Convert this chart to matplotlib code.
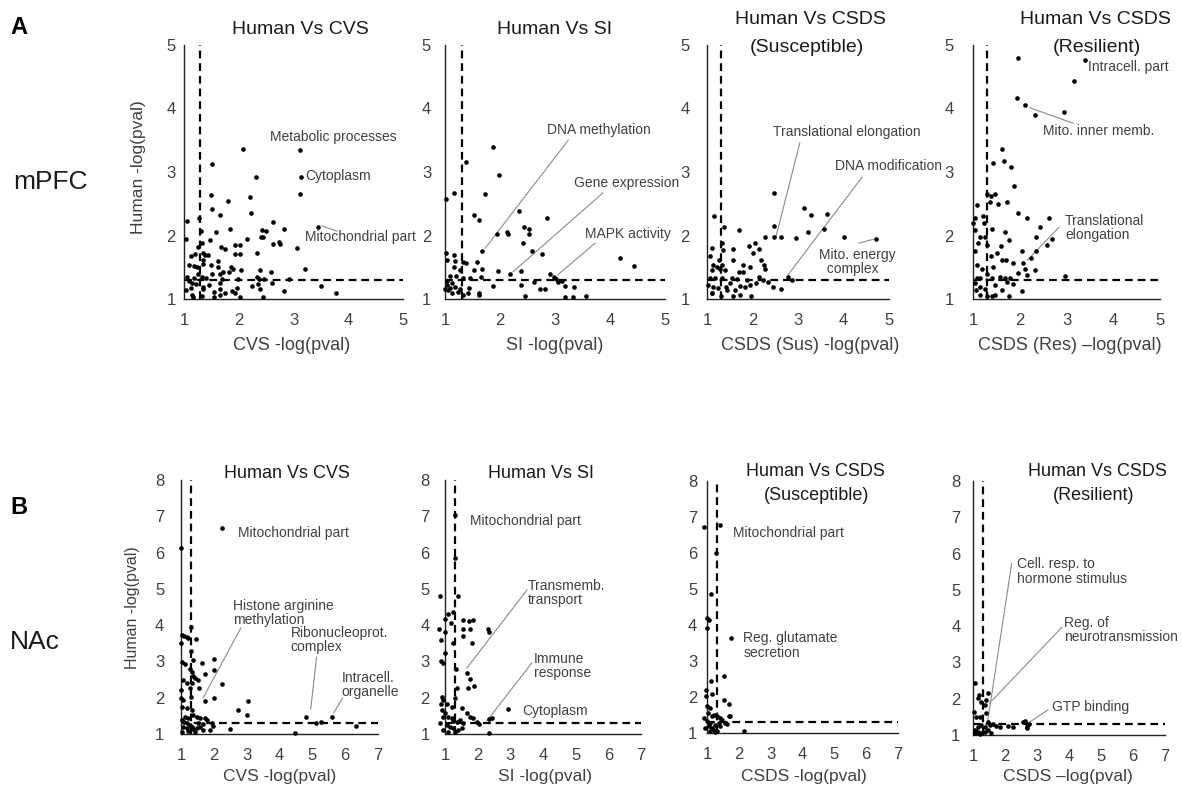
import matplotlib
matplotlib.use('Agg')
import matplotlib.pyplot as plt

plt.rcParams['font.family'] = ['Liberation Sans', 'DejaVu Sans']

# ---------------- data ----------------
a1_points = [(2.07,3.37),(3.11,3.34),(1.51,3.12),(2.32,2.92),(3.13,2.92),(3.11,2.65),(1.49,2.63),(2.20,2.60),
             (1.80,2.54),(1.52,2.42),(2.22,2.35),(1.65,2.32),(1.28,2.28),(1.05,2.23),(2.63,2.22),(3.44,2.13),
             (1.84,2.11),(2.83,2.10),(2.43,2.09),(2.49,2.07),(1.31,2.07),(1.58,2.05),(2.40,1.98),(2.44,1.97),
             (2.15,1.94),(1.48,1.93),(1.04,1.94),(2.62,1.87),(2.73,1.89),(2.76,1.87),(1.93,1.85),(2.02,1.85),
             (3.06,1.81),(1.68,1.82),(1.74,1.78),(1.34,1.73),(1.93,1.71),(2.02,1.71),(2.33,1.72),(1.13,1.68),
             (1.20,1.71),(1.25,1.82),(1.62,1.60),(1.38,1.70),(1.43,1.70),(1.09,1.54),(1.18,1.52),(1.24,1.50),
             (1.34,1.55),(1.49,1.53),(1.63,1.50),(1.86,1.51),(1.90,1.47),(3.21,1.47),(1.83,1.43),(1.72,1.42),
             (2.05,1.46),(2.38,1.45),(2.59,1.42),(1.51,1.40),(1.26,1.40),(1.65,1.40),(1.06,1.34),(1.10,1.29),
             (1.18,1.33),(1.32,1.35),(1.40,1.33),(1.69,1.31),(1.99,1.31),(2.33,1.35),(2.37,1.31),(2.46,1.31),
             (2.92,1.31),(1.14,1.25),(1.22,1.23),(1.35,1.19),(1.46,1.22),(1.65,1.25),(2.36,1.24),(2.60,1.25),
             (3.50,1.21),(1.12,1.17),(1.04,1.14),(1.35,1.16),(1.54,1.11),(1.66,1.15),(1.75,1.09),(1.87,1.12),
             (1.96,1.18),(2.25,1.20),(2.38,1.15),(2.82,1.13),(3.77,1.09),(1.14,1.06),(1.16,1.03),(1.32,1.04),
             (1.54,1.03),(2.02,1.03),(2.45,1.03),(1.65,1.06),(1.93,1.09),(1.34,1.61),(1.32,1.88)]

a2_points = [(1.88,3.40),(1.99,2.95),(1.38,3.15),(1.16,2.67),(1.01,2.57),(1.72,2.66),(2.34,2.39),(1.52,2.32),
             (1.62,2.24),(2.86,2.27),(2.44,2.14),(2.52,2.10),(2.53,2.03),(1.94,2.03),(2.12,2.06),(2.15,2.02),
             (2.41,1.88),(2.58,1.76),(2.77,1.71),(1.67,1.75),(4.19,1.65),(4.44,1.52),(1.01,1.73),(1.03,1.62),
             (1.16,1.70),(1.19,1.60),(1.32,1.59),(1.39,1.57),(1.59,1.59),(1.16,1.51),(1.27,1.45),(1.53,1.46),
             (1.68,1.47),(1.97,1.44),(2.19,1.40),(2.38,1.44),(2.91,1.40),(2.99,1.35),(3.02,1.31),(3.06,1.26),
             (1.20,1.36),(1.32,1.33),(1.45,1.33),(1.65,1.34),(1.09,1.36),(1.03,1.29),(1.12,1.25),(1.18,1.19),
             (1.06,1.14),(1.12,1.09),(1.24,1.11),(1.33,1.06),(1.42,1.09),(1.44,1.18),(1.62,1.10),(1.62,1.06),
             (1.88,1.21),(2.39,1.22),(2.45,1.04),(2.62,1.26),(2.72,1.16),(2.81,1.16),(3.19,1.21),(3.35,1.19),
             (3.18,1.03),(3.33,1.03),(3.56,1.05),(3.12,1.29),(1.03,1.22),(1.09,1.17),(1.00,1.15),(1.27,1.15)]

a3_points = [(2.47,2.67),(2.47,2.15),(3.14,2.44),(3.28,2.32),(3.63,2.34),(3.21,2.05),(3.57,2.11),(2.96,1.96),
             (4.00,1.97),(4.71,1.94),(1.16,2.30),(1.37,2.13),(1.71,2.08),(2.47,1.97),(2.63,1.97),(2.27,1.97),
             (2.05,1.88),(2.14,1.79),(1.93,1.83),(2.00,1.73),(2.19,1.61),(1.80,1.54),(1.94,1.50),(2.26,1.54),
             (2.28,1.48),(1.71,1.43),(1.12,1.80),(1.07,1.67),(1.32,1.88),(1.36,1.77),(1.58,1.78),(1.27,1.61),
             (1.32,1.54),(1.14,1.54),(1.10,1.46),(1.29,1.48),(1.58,1.62),(1.80,1.43),(1.54,1.33),(2.14,1.35),
             (2.24,1.30),(2.77,1.35),(2.87,1.30),(1.07,1.33),(1.18,1.33),(1.32,1.33),(1.65,1.31),(1.87,1.30),
             (1.03,1.22),(1.14,1.19),(1.25,1.17),(1.42,1.19),(1.51,1.25),(1.73,1.20),(1.84,1.19),(1.95,1.22),
             (2.44,1.19),(2.63,1.15),(2.35,1.27),(1.10,1.09),(1.30,1.05),(1.58,1.04),(1.73,1.06),(1.96,1.04),
             (1.43,1.14),(1.62,1.14),(2.08,1.25),(1.12,1.09),(1.21,1.51),(1.40,1.46)]

a4_points = [(1.97,4.79),(3.40,4.76),(3.16,4.43),(1.95,4.16),(2.11,4.06),(2.33,3.89),(2.95,3.94),(1.63,3.36),
             (1.43,3.14),(1.67,3.17),(1.81,3.08),(1.88,2.78),(1.29,2.66),(1.38,2.62),(1.46,2.65),(1.36,2.52),
             (1.54,2.50),(1.72,2.52),(1.08,2.48),(1.97,2.36),(2.16,2.27),(2.63,2.27),(2.43,2.14),(2.35,1.98),
             (2.68,1.94),(2.58,1.85),(2.35,1.75),(2.25,1.64),(2.08,1.56),(2.11,1.47),(2.33,1.46),(2.04,1.76),
             (1.04,2.27),(1.22,2.31),(1.24,2.19),(1.04,2.09),(1.15,1.98),(1.26,1.97),(1.40,2.10),(1.69,2.06),
             (1.78,1.93),(1.11,1.88),(1.29,1.85),(1.60,1.83),(1.51,1.73),(1.04,1.75),(1.38,1.67),(1.61,1.61),
             (1.71,1.61),(1.86,1.56),(1.08,1.54),(1.19,1.48),(1.43,1.51),(1.29,1.40),(1.58,1.35),(1.68,1.33),
             (1.79,1.33),(1.08,1.33),(1.15,1.33),(1.40,1.33),(2.97,1.36),(1.97,1.41),(2.15,1.38),(1.04,1.25),
             (1.14,1.19),(1.47,1.22),(1.72,1.27),(1.86,1.24),(2.04,1.13),(1.06,1.14),(1.26,1.15),(1.16,1.06),
             (1.31,1.05),(1.40,1.05),(1.47,1.06),(1.76,1.05),(1.61,1.14),(1.01,2.19)]

b1_points = [(2.25,6.69),(1.00,6.13),(1.29,3.96),(1.46,3.62),(1.02,3.73),(1.09,3.71),(1.17,3.68),(1.38,3.04),
             (1.63,2.95),(2.02,3.07),(2.02,2.76),(1.73,2.65),(2.25,2.37),(1.02,2.98),(1.12,2.92),(1.27,2.79),
             (1.32,2.72),(1.38,2.60),(1.43,2.55),(1.07,2.49),(1.17,2.40),(1.32,2.40),(1.53,2.49),(1.55,2.26),
             (1.73,1.92),(2.02,1.98),(3.05,1.92),(2.75,1.66),(3.00,1.51),(1.00,1.98),(1.07,1.94),(1.29,2.01),
             (1.02,1.75),(1.17,1.71),(1.32,1.66),(1.38,1.52),(1.48,1.48),(1.58,1.45),(1.73,1.43),(1.78,1.39),
             (1.93,1.31),(1.98,1.22),(1.88,1.11),(2.49,1.13),(4.80,1.48),(5.10,1.31),(5.25,1.34),(5.59,1.46),
             (6.33,1.22),(4.47,1.04),(1.02,1.39),(1.09,1.34),(1.17,1.29),(1.27,1.25),(1.32,1.20),(1.07,1.20),
             (1.17,1.16),(1.38,1.13),(1.48,1.16),(1.58,1.20),(1.68,1.28),(1.02,1.06),(1.22,1.09),(1.43,1.06),
             (1.68,1.11),(1.12,1.48),(1.22,1.43),(1.53,1.29),(1.00,2.21),(1.27,2.26),(1.29,3.29),(1.00,3.50),
             (1.22,3.64)]

b2_points = [(1.31,7.03),(1.31,5.84),(0.85,4.81),(1.41,4.80),(1.23,4.37),(1.10,4.30),(1.00,4.17),(1.17,4.05),
             (0.83,3.89),(1.00,3.82),(0.87,3.59),(1.23,3.52),(1.00,3.24),(0.87,3.02),(0.93,2.97),(1.34,2.78),
             (1.54,4.14),(1.74,4.12),(1.87,4.14),(1.56,3.89),(1.77,3.89),(1.54,3.70),(1.82,3.52),(2.33,3.88),
             (2.35,3.82),(1.66,2.69),(1.77,2.51),(1.69,2.28),(1.89,2.32),(1.36,2.26),(1.31,1.98),(0.90,2.03),
             (0.95,1.94),(0.87,1.84),(1.51,1.71),(1.66,1.57),(1.77,1.48),(1.87,1.45),(1.97,1.34),(2.05,1.28),
             (2.36,1.40),(2.43,1.45),(2.94,1.68),(2.36,1.02),(0.90,1.66),(1.00,1.57),(1.10,1.48),(1.20,1.43),
             (1.26,1.37),(1.36,1.34),(1.46,1.39),(1.56,1.31),(1.05,1.25),(1.15,1.20),(1.26,1.16),(0.95,1.11),
             (1.10,1.06),(1.31,1.06),(1.41,1.11),(1.51,1.16),(0.93,1.48),(0.85,1.29),(1.20,1.75),(1.05,1.84)]

b3_points = [(0.92,6.73),(1.42,6.79),(1.29,6.00),(1.13,4.87),(1.00,4.20),(1.05,4.15),(1.00,3.92),(1.75,3.64),
             (1.52,2.58),(1.13,2.44),(0.98,2.02),(1.16,2.07),(1.52,1.93),(1.68,1.81),(1.00,1.74),(1.10,1.70),
             (1.21,1.51),(1.31,1.46),(1.40,1.42),(1.73,1.48),(1.68,1.46),(1.42,1.19),(2.15,1.05),(0.92,1.42),
             (1.00,1.32),(1.10,1.28),(1.05,1.19),(1.16,1.14),(1.21,1.09),(1.31,1.06),(0.95,1.14),(1.26,1.23),
             (1.37,1.28),(1.57,1.28),(1.63,1.26),(1.47,1.37),(1.10,1.05),(1.26,1.02),(1.02,1.56),(1.16,1.46),
             (0.98,2.20)]

b4_points = [(1.05,2.42),(1.19,2.10),(1.24,1.92),(1.16,2.01),(1.47,2.15),(1.42,1.96),(1.37,1.83),(1.40,1.60),
             (1.03,1.64),(1.10,1.50),(1.23,1.50),(1.47,1.37),(1.52,1.28),(1.63,1.30),(1.73,1.25),(1.84,1.23),
             (2.10,1.25),(2.25,1.23),(2.57,1.37),(2.65,1.32),(2.70,1.23),(2.75,1.30),(2.69,1.18),(2.62,1.39),
             (1.05,1.14),(1.16,1.09),(1.26,1.06),(1.37,1.09),(1.05,1.05),(1.21,1.03),(1.47,1.14),(1.57,1.05),
             (1.37,1.23),(1.26,1.28),(1.16,1.23)]

# annotations: (text, text x, text y, leader line or None)
a1_notes = [("Metabolic processes", 2.57, 3.55, None),
            ("Cytoplasm", 3.21, 2.94, None),
            ("Mitochondrial part", 3.21, 1.98, (3.52, 2.15, 3.79, 2.07))]
a2_notes = [("DNA methylation", 2.85, 3.66, (3.24, 3.50, 1.73, 1.80)),
            ("Gene expression", 3.35, 2.83, (3.87, 2.67, 2.24, 1.43)),
            ("MAPK activity", 3.55, 2.02, (3.73, 1.88, 3.05, 1.38))]
a3_notes = [("Translational elongation", 2.45, 3.63, (3.04, 3.46, 2.52, 1.99)),
            ("DNA modification", 3.81, 3.09, (4.41, 2.92, 2.78, 1.38)),
            ("Mito. energy\n  complex", 3.46, 1.58, (4.34, 1.88, 4.65, 1.94))]
a4_notes = [("Intracell. part", 3.46, 4.65, None),
            ("Mito. inner memb.", 2.50, 3.65, (2.22, 4.01, 3.14, 3.77)),
            ("Translational\nelongation", 2.97, 2.12, (2.84, 2.13, 2.16, 1.61))]
b1_notes = [("Mitochondrial part", 2.73, 6.54, None),
            ("Histone arginine\nmethylation", 2.58, 4.33, (2.82, 3.92, 1.67, 1.99)),
            ("Ribonucleoprot.\ncomplex", 4.34, 3.59, (5.13, 3.12, 4.95, 1.69)),
            ("Intracell.\norganelle", 5.89, 2.35, (5.92, 1.99, 5.65, 1.58))]
b2_notes = [("Mitochondrial part", 1.76, 6.87, None),
            ("Transmemb.\ntransport", 3.54, 4.88, (3.51, 4.97, 1.67, 2.82)),
            ("Immune\nresponse", 3.72, 2.87, (3.66, 2.96, 2.28, 1.36)),
            ("Cytoplasm", 3.35, 1.63, None)]
b3_notes = [("Mitochondrial part", 1.82, 6.56, None),
            ("Reg. glutamate\nsecretion", 2.14, 3.43, None)]
b4_notes = [("Cell. resp. to\nhormone stimulus", 2.37, 5.51, (2.21, 5.73, 1.43, 1.22)),
            ("Reg. of\nneurotransmission", 3.84, 3.89, (3.78, 3.97, 1.52, 1.88)),
            ("GTP binding", 3.46, 1.77, (3.34, 1.69, 2.78, 1.36))]

top_titles = [["Human Vs CVS"], ["Human Vs SI"], ["Human Vs CSDS", "(Susceptible)"], ["Human Vs CSDS", "(Resilient)"]]
bot_titles = [["Human Vs CVS"], ["Human Vs SI"], ["Human Vs CSDS", "(Susceptible)"], ["Human Vs CSDS", "(Resilient)"]]
top_xlabels = ["CVS -log(pval)", "SI -log(pval)", "CSDS (Sus) -log(pval)", "CSDS (Res) \u2013log(pval)"]
bot_xlabels = ["CVS -log(pval)", "SI -log(pval)", "CSDS -log(pval)", "CSDS \u2013log(pval)"]
top_ticks = [1, 2, 3, 4, 5]
bot_xticks = [1, 2, 3, 4, 5, 6, 7]
bot_yticks = [1, 2, 3, 4, 5, 6, 7, 8]
threshold = 1.3

# ---------------- layout (pixels) ----------------
W, H = 1182, 800
fig = plt.figure(figsize=(W / 100, H / 100), dpi=100)

def rect(l, t, r, b):
    return [l / W, 1 - b / H, (r - l) / W, (b - t) / H]

top_rects = [(184, 45, 403, 299), (445, 45, 665, 299), (707, 45, 889, 299), (973, 45, 1160, 299)]
bot_rects = [(181, 480, 378, 734), (445, 480, 641, 734), (707, 481, 898, 733), (973, 481, 1165, 735)]
top_ypads = [6, 10, 12.5, 14]
bot_ypads = [12, 11, 7, 9]

TXT = '#404040'
TITLE = '#1a1a1a'

def draw_panel(r, pts, notes, xmax, ymax, xticks, yticks, ypad):
    ax = fig.add_axes(rect(*r))
    ax.set_xlim(1, xmax)
    ax.set_ylim(1, ymax)
    for s in ('top', 'right'):
        ax.spines[s].set_visible(False)
    for s in ('left', 'bottom'):
        ax.spines[s].set_color('#222222')
        ax.spines[s].set_linewidth(1.0)
    ax.set_xticks(xticks)
    ax.set_yticks(yticks)
    ax.tick_params(axis='x', length=0, pad=10, labelsize=12, labelcolor=TXT)
    ax.tick_params(axis='y', length=0, pad=ypad, labelsize=12, labelcolor=TXT)
    ax.patch.set_alpha(0)
    # threshold lines
    lv, = ax.plot([threshold, threshold], [1, ymax], color='black', lw=1.6, clip_on=False, zorder=2)
    lh, = ax.plot([1, xmax], [threshold, threshold], color='black', lw=1.6, clip_on=False, zorder=2)
    for ln in (lv, lh):
        ln.set_dashes((3.5, 2.2))
    xs = [p[0] for p in pts]
    ys = [p[1] for p in pts]
    ax.scatter(xs, ys, s=11, c='black', linewidths=0, clip_on=False, zorder=3)
    for txt, tx, ty, lead in notes:
        ax.text(tx, ty, txt, ha='left', va='center', fontsize=10, color=TXT,
                linespacing=1.05, clip_on=False, zorder=4)
        if lead is not None:
            ax.plot([lead[0], lead[2]], [lead[1], lead[3]], color='#8a8a8a', lw=0.8,
                    clip_on=False, zorder=2)
    return ax

top_pts = [a1_points, a2_points, a3_points, a4_points]
top_notes = [a1_notes, a2_notes, a3_notes, a4_notes]
bot_pts = [b1_points, b2_points, b3_points, b4_points]
bot_notes = [b1_notes, b2_notes, b3_notes, b4_notes]

for i in range(4):
    draw_panel(top_rects[i], top_pts[i], top_notes[i], 5, 5, top_ticks, top_ticks, top_ypads[i])
    draw_panel(bot_rects[i], bot_pts[i], bot_notes[i], 7, 8, bot_xticks, bot_yticks, bot_ypads[i])

def ftext(x, y, s, **kw):
    fig.text(x / W, 1 - y / H, s, **kw)

# titles
top_title_pos = [[(300, 30)], [(555, 30)], [(810, 20), (807, 47)], [(1095, 20), (1097, 47)]]
bot_title_pos = [[(287, 473)], [(541, 473)], [(815, 472), (817, 495)], [(1097, 472), (1094, 495)]]
for i in range(4):
    for line, (x, y) in zip(top_titles[i], top_title_pos[i]):
        ftext(x, y, line, ha='center', va='center', fontsize=14, color=TITLE)
    for line, (x, y) in zip(bot_titles[i], bot_title_pos[i]):
        ftext(x, y, line, ha='center', va='center', fontsize=13, color=TITLE)

# x labels
top_xl_pos = [292, 555, 810, 1070]
bot_xl_pos = [280, 545, 804, 1068]
for i in range(4):
    ftext(top_xl_pos[i], 345, top_xlabels[i], ha='center', va='center', fontsize=13, color=TXT)
    ftext(bot_xl_pos[i], 776, bot_xlabels[i], ha='center', va='center', fontsize=12.5, color=TXT)

# y labels
ftext(138, 167, "Human -log(pval)", ha='center', va='center', rotation=90, fontsize=12.5, color=TXT)
ftext(133, 608, "Human -log(pval)", ha='center', va='center', rotation=90, fontsize=11.5, color=TXT)

# row labels
ftext(19, 27, "A", ha='center', va='center', fontsize=17, fontweight='bold', color='black')
ftext(19, 508, "B", ha='center', va='center', fontsize=17, fontweight='bold', color='black')
ftext(50, 182, "mPFC", ha='center', va='center', fontsize=19, color='#1a1a1a')
ftext(35, 642, "NAc", ha='center', va='center', fontsize=19, color='#1a1a1a')

fig.savefig('out.png', dpi=100, facecolor='white')
